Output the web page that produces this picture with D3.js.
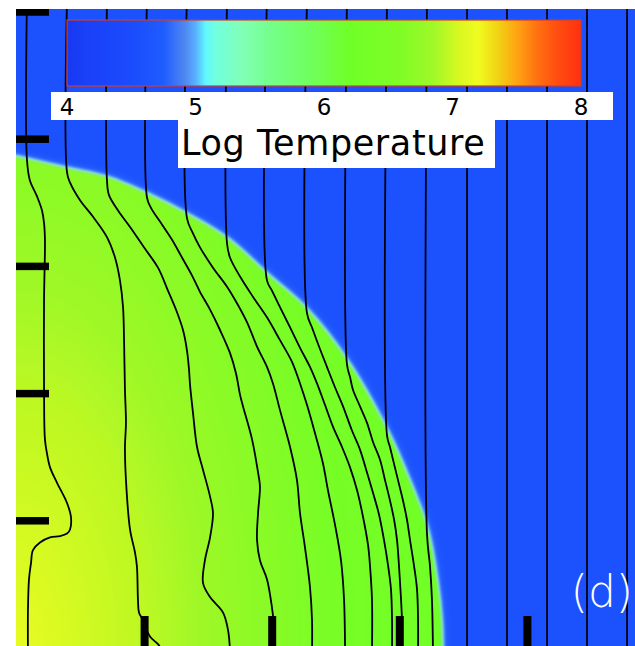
<!DOCTYPE html>
<html><head><meta charset="utf-8">
<script src="https://cdn.jsdelivr.net/npm/d3@7"></script>
<style>html,body{margin:0;padding:0;background:#fff;overflow:hidden}</style>
</head><body>
<svg id="chart" width="635" height="646"></svg>
<script>
// ---------------- data ----------------
const cbTicks = [4, 5, 6, 7, 8];
const cbValues = [4.0, 4.15, 4.5, 4.75, 4.92, 5.0, 5.08, 5.15, 5.35, 5.6, 5.9, 6.2, 6.6, 6.85, 7.05, 7.2, 7.35, 7.5, 7.65, 7.8, 8.0];
const cbColors = ["#1838f2","#1a40f8","#1a4cfc","#1e5cff","#5088f0","#58b0ff","#60f8ff","#70ffe0","#80ffb8","#74ff88","#70ff5c","#70ff28","#80fc26","#a0f828","#d8f820","#f0fc20","#f0d414","#ffa412","#ff7410","#ff5010","#ff3010"];
const colorbarTitle = "Log Temperature";
const panelLabel = "(d)";
const backgroundLogT = 4.6;
const interiorDist = [0, 0.3, 0.42, 0.55, 0.73, 0.9, 1.0];
const interiorLogT = [7.15, 6.95, 6.85, 6.7, 6.42, 6.26, 6.2];
const interiorRadii = [3.37, 6.68];
const xTicks = [1, 2, 3, 4];
const yTicks = [1, 2, 3, 4, 5];
const bubbleEdge = [[-0.05,3.87],[0,3.86],[0.392,3.77],[0.705,3.70],[1.019,3.57],[1.332,3.41],[1.646,3.22],[1.959,2.94],[2.273,2.66],[2.586,2.26],[2.9,1.71],[3.056,1.36],[3.213,0.94],[3.292,0.51],[3.323,0.22],[3.331,-0.05]];
const fieldLine0 = [[0.078,5.1],[0.078,3.84],[0.10,3.68],[0.157,3.55],[0.196,3.44],[0.212,3.34],[0.219,3.21],[0.212,2.74],[0.212,2.03],[0.219,1.64],[0.235,1.53],[0.259,1.42],[0.313,1.30],[0.392,1.14],[0.423,1.03],[0.415,0.93],[0.392,0.90],[0.337,0.88],[0.259,0.87],[0.18,0.83],[0.125,0.77],[0.11,0.67],[0.094,0.54],[0.086,0.30],[0.086,-0.05]];
const fieldLine1 = [[0.392,5.1],[0.392,3.74],[0.415,3.66],[0.494,3.52],[0.596,3.39],[0.705,3.23],[0.768,3.07],[0.807,2.89],[0.831,2.68],[0.839,2.42],[0.846,2.03],[0.854,1.77],[0.846,1.58],[0.854,1.32],[0.886,0.93],[0.925,0.75],[0.94,0.64],[0.948,0.38],[0.956,0.28],[0.987,0.22],[1.042,0.09],[1.105,0.03],[1.136,-0.02]];
const fieldLine2 = [[0.705,5.1],[0.705,3.68],[0.721,3.56],[0.792,3.44],[0.893,3.30],[0.995,3.15],[1.105,2.99],[1.183,2.81],[1.246,2.66],[1.301,2.50],[1.332,2.34],[1.348,2.19],[1.356,2.07],[1.379,1.85],[1.411,1.58],[1.458,1.40],[1.513,1.19],[1.536,1.06],[1.513,0.87],[1.473,0.69],[1.458,0.51],[1.513,0.40],[1.614,0.28],[1.654,0.14],[1.669,-0.02]];
const fieldLine3 = [[1.019,5.1],[1.019,3.54],[1.05,3.46],[1.136,3.33],[1.215,3.21],[1.293,3.07],[1.371,2.93],[1.434,2.80],[1.513,2.66],[1.591,2.50],[1.669,2.32],[1.716,2.16],[1.748,1.99],[1.771,1.90],[1.842,1.64],[1.889,1.38],[1.904,1.27],[1.889,1.06],[1.881,0.85],[1.904,0.69],[1.959,0.54],[1.998,0.32],[2.014,0.18],[2.022,-0.02]];
const fieldLine4 = [[1.332,5.1],[1.332,3.38],[1.379,3.26],[1.434,3.15],[1.536,2.99],[1.646,2.84],[1.724,2.71],[1.803,2.56],[1.881,2.37],[1.959,2.21],[2.006,2.08],[2.061,1.87],[2.14,1.58],[2.194,1.32],[2.218,1.06],[2.257,0.79],[2.296,0.48],[2.312,0.22],[2.312,-0.02]];
const fieldLine5 = [[1.646,5.1],[1.646,3.18],[1.669,3.07],[1.748,2.92],[1.85,2.76],[1.959,2.60],[2.061,2.42],[2.155,2.25],[2.218,2.08],[2.273,1.91],[2.335,1.69],[2.398,1.45],[2.437,1.24],[2.492,0.97],[2.539,0.69],[2.563,0.38],[2.571,-0.02]];
const fieldLine6 = [[1.959,5.1],[1.959,2.89],[1.998,2.81],[2.061,2.68],[2.14,2.52],[2.218,2.36],[2.296,2.21],[2.351,2.08],[2.414,1.91],[2.476,1.74],[2.547,1.58],[2.61,1.42],[2.665,1.24],[2.712,1.03],[2.751,0.81],[2.767,0.64],[2.782,0.38],[2.782,-0.02]];
const fieldLine7 = [[2.273,5.1],[2.273,2.63],[2.312,2.52],[2.367,2.37],[2.429,2.21],[2.492,2.05],[2.555,1.90],[2.625,1.71],[2.688,1.56],[2.743,1.38],[2.79,1.22],[2.837,1.05],[2.876,0.85],[2.908,0.65],[2.931,0.46],[2.939,0.22],[2.939,-0.02]];
const fieldLine8 = [[2.586,5.1],[2.586,2.23],[2.61,2.13],[2.633,2.03],[2.688,1.90],[2.743,1.77],[2.79,1.62],[2.845,1.48],[2.884,1.32],[2.923,1.16],[2.955,1.01],[2.978,0.85],[3.002,0.51],[3.017,0.22],[3.017,-0.02]];
const fieldLine9 = [[2.9,5.1],[2.9,1.67],[2.923,1.58],[2.947,1.48],[2.986,1.32],[3.025,1.16],[3.056,1.01],[3.08,0.85],[3.111,0.65],[3.135,0.46],[3.143,0.22],[3.143,-0.02]];
const fieldLine10 = [[3.213,5.1],[3.213,0.90],[3.237,0.64],[3.252,0.38],[3.26,-0.02]];
const straightLineX = [3.527, 3.840, 4.154, 4.467, 4.781];

// ---------------- drawing ----------------
const svg = d3.select("#chart");
const x = d3.scaleLinear().domain([0, 4]).range([17, 527.4]);
const y = d3.scaleLinear().domain([0, 5]).range([648, 12]);
const color = d3.scaleLinear().domain(cbValues).range(cbColors).interpolate(d3.interpolateRgb).clamp(true);
const plot = {left: 16, top: 9, right: 635, bottom: 646};

const defs = svg.append("defs");
defs.append("clipPath").attr("id", "plotClip").append("rect")
  .attr("x", plot.left).attr("y", plot.top)
  .attr("width", plot.right - plot.left).attr("height", plot.bottom - plot.top);
function blur(id, sd) {
  defs.append("filter").attr("id", id).attr("filterUnits", "userSpaceOnUse")
    .attr("x", -100).attr("y", -100).attr("width", 900).attr("height", 900)
    .append("feGaussianBlur").attr("stdDeviation", sd);
}
blur("blurHalo", 4);
blur("blurRim", 1.6);
blur("blurFill", 1.2);

// interior radial gradient
const cx = x(0), cy = y(0);
const rx = x(interiorRadii[0]) - x(0), ry = y(0) - y(interiorRadii[1]);
const rg = defs.append("radialGradient").attr("id", "interior")
  .attr("gradientUnits", "userSpaceOnUse")
  .attr("cx", cx).attr("cy", cy).attr("r", rx).attr("fx", cx).attr("fy", cy)
  .attr("gradientTransform", `translate(${cx},${cy}) scale(1,${ry / rx}) translate(${-cx},${-cy})`);
interiorDist.forEach((d, i) => rg.append("stop").attr("offset", d).attr("stop-color", color(interiorLogT[i])));

// colorbar gradient
const cbg = defs.append("linearGradient").attr("id", "cbGrad").attr("x1", 0).attr("x2", 1).attr("y1", 0).attr("y2", 0);
cbValues.forEach((v, i) => cbg.append("stop").attr("offset", (v - 4) / 4).attr("stop-color", cbColors[i]));

const g = svg.append("g").attr("clip-path", "url(#plotClip)");
g.append("rect").attr("x", plot.left).attr("y", plot.top)
  .attr("width", plot.right - plot.left).attr("height", plot.bottom - plot.top)
  .attr("fill", color(backgroundLogT));

const curve = d3.line().x(d => x(d[0])).y(d => y(d[1])).curve(d3.curveCatmullRom.alpha(0.5));
const edgePath = curve(bubbleEdge);
const last = bubbleEdge[bubbleEdge.length - 1];
const bubblePath = `M${x(-0.3)},${y(-0.3)}L${x(-0.3)},${y(bubbleEdge[0][1])}` +
  edgePath.replace(/^M/, "L") + `L${x(last[0])},${y(-0.3)}Z`;

g.append("path").attr("d", bubblePath).attr("fill", "#5aa8ff").attr("filter", "url(#blurHalo)");
g.append("path").attr("d", edgePath).attr("fill", "none").attr("stroke", "#9af0e0")
  .attr("stroke-width", 4).attr("filter", "url(#blurRim)");
g.append("path").attr("d", bubblePath).attr("fill", "url(#interior)").attr("filter", "url(#blurFill)");

const lines = [fieldLine0, fieldLine1, fieldLine2, fieldLine3, fieldLine4, fieldLine5,
  fieldLine6, fieldLine7, fieldLine8, fieldLine9, fieldLine10]
  .concat(straightLineX.map(v => [[v, 5.1], [v, -0.05]]));
g.selectAll("path.field").data(lines).join("path").attr("class", "field")
  .attr("d", curve).attr("fill", "none").attr("stroke", "#000010")
  .attr("stroke-width", 1.8).attr("stroke-linejoin", "round");

// ticks
svg.selectAll("rect.ytick").data(yTicks).join("rect").attr("class", "ytick")
  .attr("x", plot.left).attr("width", 33).attr("y", d => Math.max(plot.top, y(d) - 3.75))
  .attr("height", d => y(d) + 3.75 - Math.max(plot.top, y(d) - 3.75)).attr("fill", "#000");
svg.selectAll("rect.xtick").data(xTicks).join("rect").attr("class", "xtick")
  .attr("x", d => x(d) - 4).attr("width", 8).attr("y", 616).attr("height", 30).attr("fill", "#000");

// colorbar
const cbX = d3.scaleLinear().domain([4, 8]).range([67, 581]);
svg.append("rect").attr("x", cbX(4)).attr("y", 20).attr("width", cbX(8) - cbX(4)).attr("height", 66)
  .attr("fill", "url(#cbGrad)").attr("stroke", "#d23c28").attr("stroke-width", 1.2);
svg.append("rect").attr("x", 51).attr("y", 92).attr("width", 562).attr("height", 28).attr("fill", "#fff");
svg.append("rect").attr("x", 178).attr("y", 119).attr("width", 317).attr("height", 49).attr("fill", "#fff");
svg.selectAll("text.cbt").data(cbTicks).join("text").attr("class", "cbt")
  .attr("x", d => cbX(d)).attr("y", 115).attr("text-anchor", "middle")
  .attr("font-family", "DejaVu Sans").attr("font-size", 23).attr("fill", "#000").text(d => d);
svg.append("text").attr("x", 181).attr("y", 155).attr("font-family", "DejaVu Sans")
  .attr("font-size", 35).attr("letter-spacing", 0.6).attr("fill", "#000").text(colorbarTitle);
svg.append("text").attr("x", 633).attr("y", 607).attr("text-anchor", "end").attr("font-family", "DejaVu Sans")
  .attr("font-weight", 200).attr("font-size", 44).attr("fill", "#fff").text(panelLabel);
</script></body></html>
